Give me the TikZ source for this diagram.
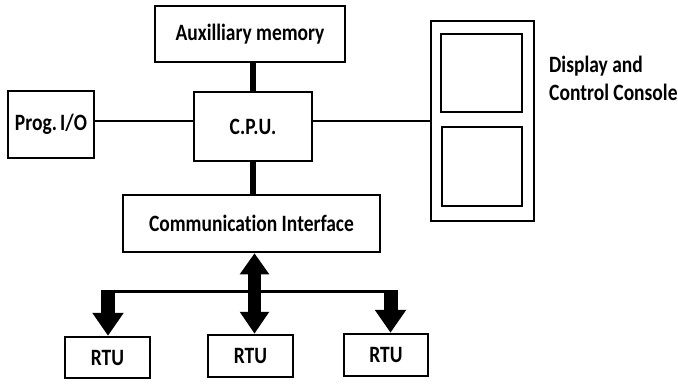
\documentclass[tikz,border=0pt]{standalone}
\usepackage{fontspec}
\setmainfont[Ligatures=NoCommon]{Carlito}
\usetikzlibrary{arrows.meta}
\newcommand{\vstr}[1]{\scalebox{1}[1.2]{#1}}
\begin{document}
\begin{tikzpicture}[x=1pt,y=-1pt,
  box/.style={draw,line width=2.5pt,inner sep=0pt,font=\fontsize{19.5}{24}\selectfont\bfseries},
  thin/.style={line width=2.5pt},
  thick/.style={line width=6pt},
  fat/.style={line width=14pt,-{Triangle[width=30pt,length=23pt]}},
  fatboth/.style={line width=13pt,{Triangle[width=28pt,length=21pt]}-{Triangle[width=28pt,length=22pt]}}]
\useasboundingbox (0,0) rectangle (678,385);
\node[box,minimum width=190pt,minimum height=56pt] (aux) at (250,34) {\vstr{Auxilliary memory}};
\node[box,minimum width=118pt,minimum height=69pt] (cpu) at (253,126.5) {\vstr{C.P.U.}};
\node[box,minimum width=86pt,minimum height=67pt] (prog) at (51,124.5) {\vstr{Prog.\,I/O}};
\node[box,minimum width=103pt,minimum height=200pt] (disp) at (482.5,121) {};
\node[box,minimum width=81pt,minimum height=78pt] (dtop) at (481.5,73) {};
\node[box,minimum width=80pt,minimum height=79pt] (dbot) at (482,166.5) {};
\node[font=\fontsize{19.5}{23.3}\selectfont\bfseries,anchor=west,inner sep=0pt] (dlabel) at (549,81) {\vstr{\begin{tabular}{@{}l@{}}Display and\\Control Console\end{tabular}}};
\node[box,minimum width=257pt,minimum height=57pt] (comm) at (251.5,223.5) {\vstr{Communication Interface}};
\node[box,minimum width=85pt,minimum height=41pt] (rtu1) at (107.5,357.5) {\vstr{RTU}};
\node[box,minimum width=85pt,minimum height=42pt] (rtu2) at (250.5,356) {\vstr{RTU}};
\node[box,minimum width=84pt,minimum height=42pt] (rtu3) at (386,355) {\vstr{RTU}};
\coordinate (b1) at (108,289.5);
\coordinate (b3) at (390.5,289.5);
\draw[thick] (cpu.north |- aux.south) -- (cpu.north);
\draw[thick] (cpu.south) -- (cpu.south |- comm.north);
\draw[thin] ([yshift=5.5pt]cpu.west) -- ([yshift=5.5pt]cpu.west -| prog.east);
\draw[thin] ([yshift=5.5pt]cpu.east) -- ([yshift=5.5pt]cpu.east -| disp.west);
\draw[line width=3pt] ([xshift=-7pt,yshift=-1.5pt]b1) -- ([xshift=7pt,yshift=-1.5pt]b3);
\draw[fat] (b1) -- (b1 |- rtu1.north);
\draw[fat] (b3) -- (b3 |- rtu3.north);
\draw[fatboth] ([xshift=3pt]comm.south) -- ([xshift=3pt]comm.south |- rtu2.north);
\end{tikzpicture}
\end{document}
